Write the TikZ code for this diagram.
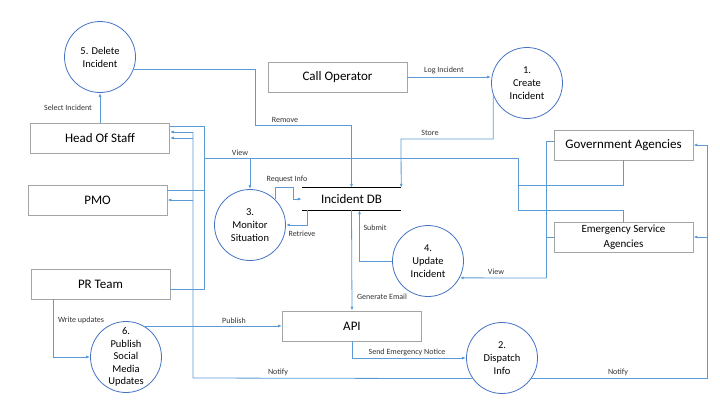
\documentclass[tikz,border=0pt]{standalone}
\usepackage{fontspec}
\setmainfont{Carlito}
\usetikzlibrary{arrows.meta, positioning, calc}
\definecolor{flowblue}{HTML}{5B9BD5}
\definecolor{procblue}{HTML}{4472C4}
\definecolor{boxgray}{HTML}{A5A5A5}

\begin{document}
\begin{tikzpicture}[x=1pt, y=-1pt, >={Latex[length=4pt,width=3pt]},
    entity/.style={draw=boxgray, line width=0.8pt, minimum width=139pt,
      minimum height=30pt, inner sep=1pt, align=center,
      font=\fontsize{13}{15}\selectfont},
    proc/.style={circle, draw=procblue, line width=0.8pt, minimum size=71pt,
      inner sep=0pt, align=center, font=\fontsize{10.5}{12.8}\selectfont},
    flow/.style={draw=flowblue, line width=0.8pt},
    lbl/.style={font=\fontsize{8}{9}\selectfont, inner sep=1pt, text=black!80}]
      \useasboundingbox (0,0) rectangle (720,405);
      % Entities
      \node[entity] (hos) at (100,138) {Head Of Staff};
      \node[entity] (pmo) at (97.5,200) {PMO};
      \node[entity] (pr) at (100.5,284) {PR Team};
      \node[entity] (call) at (337.5,77) {Call Operator};
      \node[entity] (gov) at (623.5,145) {Government Agencies};
      \node[entity, font=\fontsize{11}{14.5}\selectfont] (esa) at (623.5,237)
        {Emergency Service\\Agencies};
      \node[entity] (api) at (352,326) {API};
      % Processes
      \node[proc] (del) at (100,57) {5. Delete\\Incident};
      \node[proc] (create) at (527,83) {1.\\Create\\Incident};
      \node[proc] (mon) at (250,225) {3.\\Monitor\\Situation};
      \node[proc] (upd) at (428,261) {4.\\Update\\Incident};
      \node[proc] (disp) at (502,358) {2.\\Dispatch\\Info};
      \node[proc, inner sep=-3pt, font=\fontsize{10.5}{12.5}\selectfont] (pub)
        at (126,357) {6.\\Publish\\Social\\Media\\Updates};
      % Data store
      \node[minimum width=99pt, minimum height=22pt, inner sep=0pt,
        font=\fontsize{13}{15}\selectfont] (db) at (351.5,199) {Incident DB};
      \draw[line width=0.8pt] (db.north west) -- (db.north east);
      \draw[line width=0.8pt] (db.south west) -- (db.south east);
      % Delete
      \draw[flow, ->] (hos.north) -- (del.south);
      \node[lbl] (lsel) at (68,108) {Select Incident};
      \draw[flow, ->] (del.-20) -| (255,125) -| (db.north);
      \node[lbl] (lrem) at (285,120) {Remove};
      % Create
      \draw[flow, ->] (call.east) -- (call.east -| create.west);
      \node[lbl] (llog) at (444,70) {Log Incident};
      \draw[flow, ->] (create.200) |- (401,139) -- (db.north east);
      \node[lbl] (lsto) at (430,133) {Store};
      % View to monitor
      \coordinate (vjoin) at (518,158);
      \draw[flow] (gov.south) |- (518,185);
      \draw[flow] (esa.north) |- (518,210) -- (vjoin) -- (204,158);
      \draw[flow, ->] (mon.north |- vjoin) -- (mon.north);
      \node[lbl] (lview) at (240,153) {View};
      \draw[flow] ([yshift=12pt]hos.east) -| (204,289) -- ([yshift=-5pt]pr.east);
      \draw[flow] ([yshift=10pt]pmo.east) -- (204,190);
      % Monitor and store
      \draw[flow, ->] (mon.46) |- (293,187) |- (db.west);
      \node[lbl] (lreq) at (287,179) {Request Info};
      \draw[flow, ->] ([xshift=6pt]db.south west) |- (mon.east);
      \node[lbl] (lret) at (302,234) {Retrieve};
      % Update
      \draw[flow, ->] (upd.west) -| ([xshift=8pt]db.south);
      \node[lbl] (lsub) at (375,228) {Submit};
      \draw[flow] ([yshift=4pt]gov.west) -| (546,278);
      \draw[flow] (esa.west) -- (546,237);
      \draw[flow, ->] (546,278) -- (upd.-28);
      \node[lbl] (lview2) at (496,272) {View};
      % API
      \draw[flow, ->] (db.south) -- (api.north);
      \node[lbl] (lgen) at (382,297) {Generate Email};
      \draw[flow, ->] ([xshift=-47.5pt]pr.south) |- (pub.west);
      \node[lbl] (lwri) at (81,320) {Write updates};
      \draw[flow, ->] (pub.60) -- (pub.60 -| api.west);
      \node[lbl] (lpub) at (234,321) {Publish};
      \draw[flow, ->] (api.south) |- (disp.west);
      \node[lbl] (lsend) at (407,352) {Send Emergency Notice};
      % Notify
      \draw[flow] (disp.215) -- (193,378) -- (193,132);
      \draw[flow, ->] (193,132) -- ([yshift=6pt]hos.east);
      \draw[flow, ->] (193,138) -- (hos.east);
      \draw[flow, ->] (193,200) -- (pmo.east);
      \node[lbl] (lnot) at (278,372) {Notify};
      \draw[flow, ->] (disp.-35) -| (707,145) -- (gov.east);
      \draw[flow, ->] (707,237) -- (esa.east);
      \node[lbl] (lnot2) at (618,372) {Notify};
    \end{tikzpicture}
\end{document}
